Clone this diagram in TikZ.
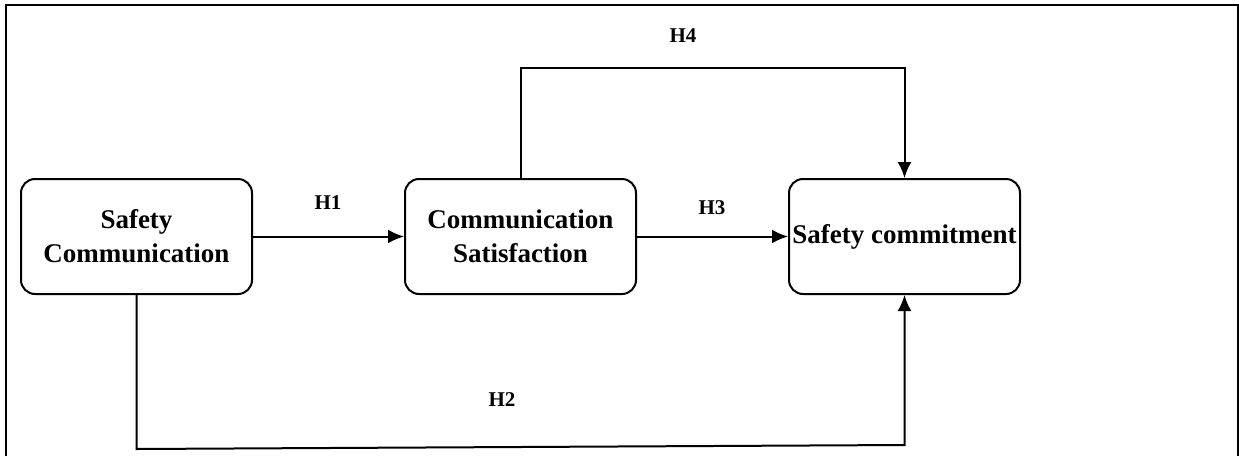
\documentclass[tikz,border=0pt]{standalone}
\usepackage{fontspec}
\setmainfont{Liberation Serif}
\usetikzlibrary{arrows.meta}

\begin{document}
\begin{tikzpicture}[x=0.5pt,y=-0.5pt,->,>={Latex[length=8pt,width=7pt]},line width=1pt,main node/.style={draw,rounded corners=7pt,minimum width=115.5pt,minimum height=57.5pt,inner sep=0pt,align=center,font=\bfseries\fontsize{13.5}{17}\selectfont},hyp/.style={font=\bfseries\fontsize{10.5}{12}\selectfont}]

  \useasboundingbox (0,0) rectangle (1239,456);
  \draw[-] (6,456) -- (6,5) -- (1238,5) -- (1238,456);

  \foreach \place/\x/\txt in {
    {(136.5,236.5)/scom/{Safety\\Communication}},
    {(520.5,236.5)/csat/{Communication\\Satisfaction}},
    {(904.5,236.5)/scmt/{Safety commitment}}}
  \node[main node] (\x) at \place {\txt};

  \coordinate (top) at (712,68);
  \coordinate (low1) at (136.5,449);
  \coordinate (low2) at (904.5,445);

  \path
    (scom) edge (csat)
    (csat) edge (scmt);
  \draw (csat.north) |- (top) -| (scmt.north);
  \draw (scom.south) -- (low1) -- (low2) -- (scmt.south);

  \node[hyp] (h1) at (328,203) {H1};
  \node[hyp] (h2) at (502,400) {H2};
  \node[hyp] (h3) at (712,208) {H3};
  \node[hyp] (h4) at (683,36) {H4};
\end{tikzpicture}
\end{document}
